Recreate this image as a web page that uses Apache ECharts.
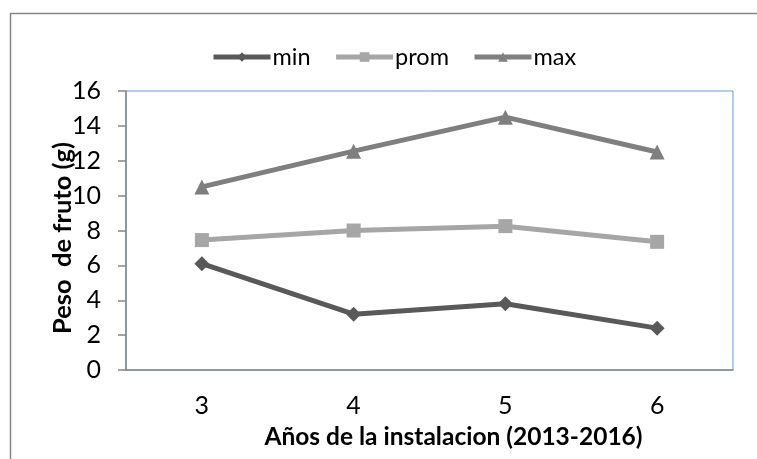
<!DOCTYPE html>
<html>
<head>
<meta charset="utf-8">
<script src="https://cdn.jsdelivr.net/npm/echarts@6/dist/echarts.min.js"></script>
<style>
html,body{margin:0;padding:0;background:#fff;}
#chart{width:757px;height:459px;}
</style>
</head>
<body>
<div id="chart"></div>
<script>
const categories = ['3', '4', '5', '6'];
const minValues = [6.1, 3.2, 3.8, 2.4];
const promValues = [7.45, 8.0, 8.25, 7.35];
const maxValues = [10.5, 12.55, 14.5, 12.5];
const yTicks = [0, 2, 4, 6, 8, 10, 12, 14, 16];

const FONT = 'Lato';
const chart = echarts.init(document.getElementById('chart'));
chart.setOption({
  animation: false,
  graphic: [{
    type: 'rect',
    shape: {x: 10.5, y: 13.5, width: 800, height: 500},
    style: {fill: 'none', stroke: '#868686', lineWidth: 1.5},
    silent: true
  }],
  legend: {
    left: 206,
    top: 40,
    itemWidth: 57,
    itemHeight: 12,
    itemGap: 23,
    lineStyle: {width: 5},
    textStyle: {fontFamily: FONT, fontSize: 23.5, color: '#000', padding: [0, 0, 0, -3]},
    data: ['min', 'prom', 'max']
  },
  grid: {
    left: 126, top: 91, right: 24, bottom: 89,
    show: true, borderColor: '#6A9BD8', borderWidth: 1,
    containLabel: false
  },
  xAxis: {
    type: 'category',
    data: categories,
    boundaryGap: true,
    axisLine: {lineStyle: {color: '#868686', width: 1.5}},
    axisTick: {show: false},
    axisLabel: {fontFamily: FONT, fontSize: 25, color: '#000', margin: 23},
    name: 'Años de la instalacion (2013-2016)',
    nameLocation: 'middle',
    nameGap: 55,
    nameMoveOverlap: false,
    nameTextStyle: {fontFamily: FONT, fontSize: 24.5, fontWeight: 'bold', color: '#000', padding: [0, 0, 0, 48]}
  },
  yAxis: {
    type: 'value',
    min: yTicks[0],
    max: yTicks[yTicks.length - 1],
    interval: yTicks[1] - yTicks[0],
    splitLine: {show: false},
    axisLine: {show: true, lineStyle: {color: '#868686', width: 1.5}},
    axisTick: {show: true, length: 8, lineStyle: {color: '#868686', width: 1.5}},
    axisLabel: {fontFamily: FONT, fontSize: 25, color: '#000', margin: 25},
    name: 'Peso  de fruto (g)',
    nameLocation: 'middle',
    nameRotate: 90,
    nameGap: 50,
    nameMoveOverlap: false,
    nameTextStyle: {fontFamily: FONT, fontSize: 25.5, fontWeight: 'bold', color: '#000', padding: [0, 15, 0, 0]}
  },
  series: [
    {name: 'min', type: 'line', data: minValues, symbol: 'diamond', symbolSize: 15,
      lineStyle: {color: '#595959', width: 5}, itemStyle: {color: '#595959'}},
    {name: 'prom', type: 'line', data: promValues, symbol: 'rect', symbolSize: 14,
      lineStyle: {color: '#A6A6A6', width: 5}, itemStyle: {color: '#A6A6A6'}},
    {name: 'max', type: 'line', data: maxValues, symbol: 'triangle', symbolSize: 15,
      lineStyle: {color: '#7F7F7F', width: 5}, itemStyle: {color: '#7F7F7F'}}
  ]
});
</script>
</body>
</html>
